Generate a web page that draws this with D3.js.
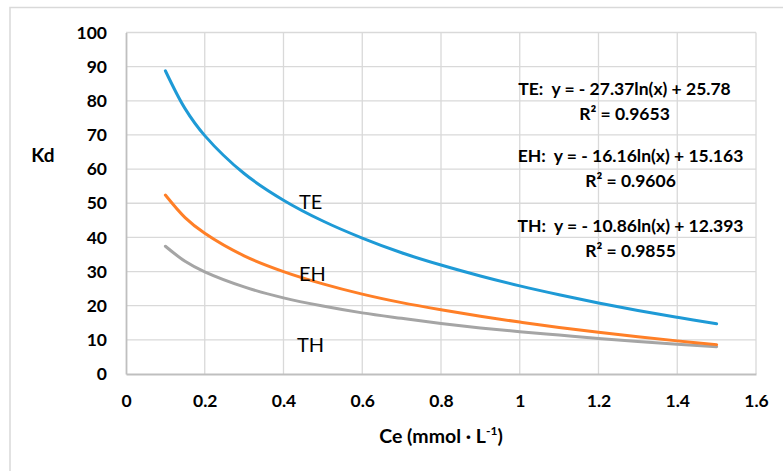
<!DOCTYPE html>
<html>
<head>
<meta charset="utf-8">
<script src="https://cdn.jsdelivr.net/npm/d3@7"></script>
<style>
  body { margin: 0; background: #fff; }
  svg text { font-family: Lato, "Open Sans", sans-serif; fill: #000; white-space: pre; }
</style>
</head>
<body>
<div id="chart"></div>
<script>
// Kd vs Ce
const ceValues = [0.1, 0.15, 0.2, 0.3, 0.4, 0.5, 0.6, 0.7, 0.8, 0.9, 1.0, 1.1, 1.2, 1.3, 1.4, 1.5];
const teValues = [88.8, 77.7, 69.8, 58.7, 50.9, 44.8, 39.8, 35.5, 31.9, 28.7, 25.8, 23.2, 20.8, 18.6, 16.6, 14.7];
const ehValues = [52.4, 45.8, 41.2, 34.6, 30.0, 26.4, 23.4, 20.9, 18.8, 16.9, 15.2, 13.6, 12.2, 10.9, 9.7, 8.6];
const thValues = [37.4, 33.0, 29.9, 25.5, 22.3, 19.9, 17.9, 16.3, 14.8, 13.5, 12.4, 11.4, 10.4, 9.5, 8.7, 8.0];

const seriesNames = ['TH', 'EH', 'TE'];
const xTicks = [0, 0.2, 0.4, 0.6, 0.8, 1, 1.2, 1.4, 1.6];
const yTicks = [0, 10, 20, 30, 40, 50, 60, 70, 80, 90, 100];
const equations = [
    ['TE:  y = - 27.37ln(x) + 25.78', 'R² = 0.9653'],
    ['EH:  y = - 16.16ln(x) + 15.163', 'R² = 0.9606'],
    ['TH:  y = - 10.86ln(x) + 12.393', 'R² = 0.9855']
];

const colors = { TE: '#1e9ad6', EH: '#ff7f27', TH: '#a5a5a5' };
const W = 783, H = 471;
const margin = { left: 126, right: 27, top: 32.5, bottom: 97 };

const svg = d3.select('#chart').append('svg')
    .attr('width', W)
    .attr('height', H);

// outer chart frame
svg.append('rect')
    .attr('x', 10).attr('y', 7.5)
    .attr('width', 800).attr('height', 500)
    .attr('fill', '#fff')
    .attr('stroke', '#d9d9d9')
    .attr('stroke-width', 1.5);

var x = d3.scaleLinear().domain([0, 1.6]).range([margin.left, W - margin.right]);
var y = d3.scaleLinear().domain([0, 100]).range([H - margin.bottom, margin.top]);

// gridlines
let grid = svg.append('g');
grid.selectAll('.hgrid')
    .data(yTicks.slice(1))
    .join('line')
    .attr('x1', x(0)).attr('x2', x(1.6))
    .attr('y1', d => y(d)).attr('y2', d => y(d))
    .attr('stroke', '#d9d9d9').attr('stroke-width', 1.3);
grid.selectAll('.vgrid')
    .data(xTicks.slice(1))
    .join('line')
    .attr('x1', d => x(d)).attr('x2', d => x(d))
    .attr('y1', y(0)).attr('y2', y(100))
    .attr('stroke', '#d9d9d9').attr('stroke-width', 1.3);

// axes
let yAxis = svg.append('g')
    .attr('transform', `translate(${x(0)},0)`)
    .call(d3.axisLeft(y).tickValues(yTicks).tickSize(0).tickPadding(19));
let xAxis = svg.append('g')
    .attr('transform', `translate(0,${y(0)})`)
    .call(d3.axisBottom(x).tickValues(xTicks).tickSize(0).tickPadding(21).tickFormat(d => String(d)));

[xAxis, yAxis].forEach(a => {
    a.select('.domain').attr('stroke', '#bfbfbf').attr('stroke-width', 1.8);
    a.selectAll('text')
        .attr('font-size', '17.5px')
        .attr('font-weight', 'bold')
        .attr('fill', '#000')
        .style('font-family', 'Lato, sans-serif');
});

// curves
const table = ceValues.map((c, i) => ({ ce: c, TE: teValues[i], EH: ehValues[i], TH: thValues[i] }));

seriesNames.forEach(name => {
    let line = d3.line()
        .x(d => x(d.ce))
        .y(d => y(d[name]))
        .curve(d3.curveCatmullRom.alpha(0.5));
    svg.append('path')
        .datum(table)
        .attr('d', line)
        .attr('fill', 'none')
        .attr('stroke', colors[name])
        .attr('stroke-width', 3)
        .attr('stroke-linecap', 'round');
});

// series labels
const seriesLabels = [['TE', 299, 209], ['EH', 299, 281], ['TH', 297, 352]];
svg.selectAll('.series-label')
    .data(seriesLabels)
    .join('text')
    .attr('x', d => d[1]).attr('y', d => d[2])
    .attr('font-size', '20px')
    .text(d => d[0]);

// equations
const eqCenters = [624.5, 630.5, 630.5];
const eqBaselines = [[95, 119.5], [161.5, 186.5], [231.5, 256.5]];
equations.forEach((eq, i) => {
    eq.forEach((t, j) => {
        svg.append('text')
            .attr('x', eqCenters[i])
            .attr('y', eqBaselines[i][j])
            .attr('text-anchor', 'middle')
            .attr('font-size', '17.5px')
            .attr('font-weight', 'bold')
            .text(t);
    });
});

// axis titles
svg.append('text')
    .attr('x', 43).attr('y', 162)
    .attr('text-anchor', 'middle')
    .attr('font-size', '19px')
    .attr('font-weight', 'bold')
    .text('Kd');

let xTitle = svg.append('text')
    .attr('x', 441).attr('y', 443)
    .attr('text-anchor', 'middle')
    .attr('font-size', '19.5px')
    .attr('font-weight', 'bold');
xTitle.append('tspan').text('Ce (mmol · L');
xTitle.append('tspan').attr('font-size', '12px').attr('dy', -8).text('-1');
xTitle.append('tspan').attr('dy', 8).text(')');
</script>
</body>
</html>
